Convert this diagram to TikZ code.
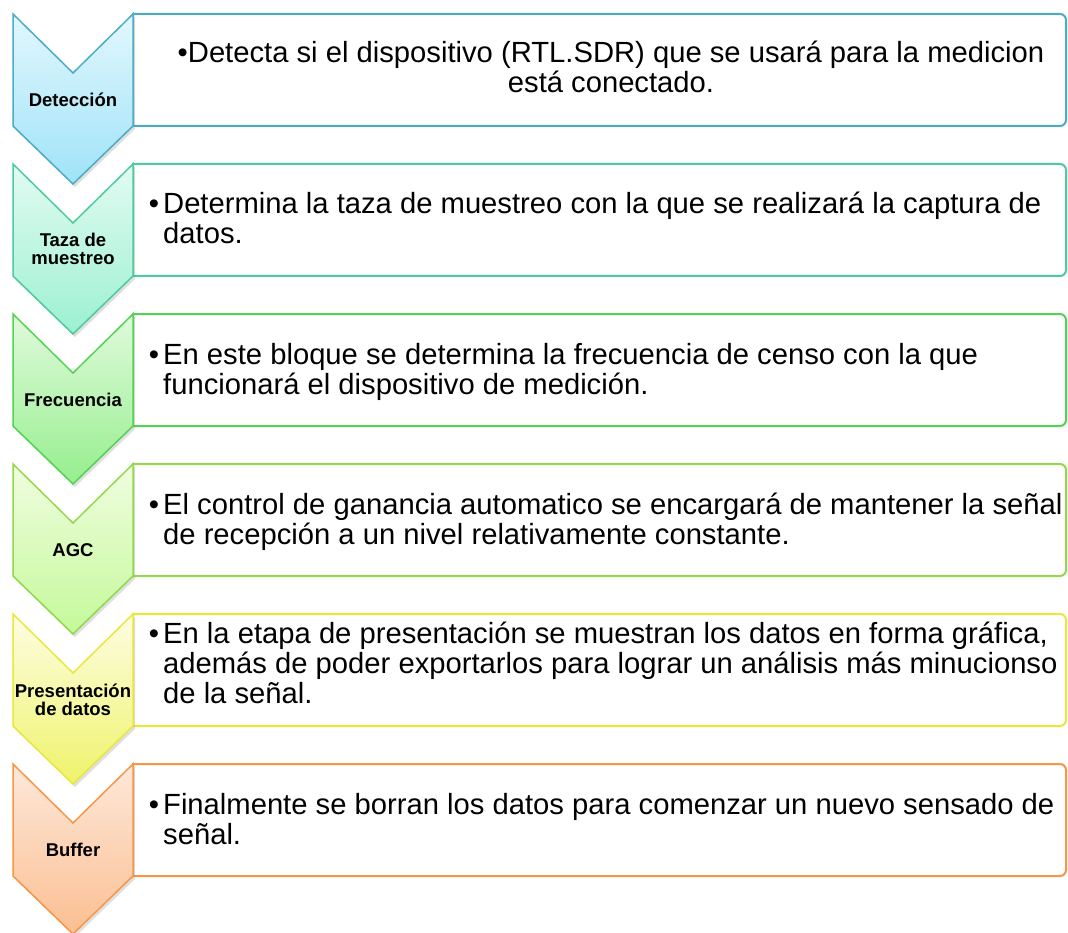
\documentclass[tikz,border=0pt]{standalone}
\usepackage{fontspec}
\setmainfont{Liberation Sans}
\usetikzlibrary{shadows}

%%%% COLORES
\definecolor{azulB}{HTML}{4BACC6}
\definecolor{azulA}{HTML}{E2F7FD}
\definecolor{azulC}{HTML}{9FE3F8}
\definecolor{tealB}{HTML}{4DCB9C}
\definecolor{tealA}{HTML}{E2FBF2}
\definecolor{tealC}{HTML}{9CF0D2}
\definecolor{verdeB}{HTML}{52D452}
\definecolor{verdeA}{HTML}{E0FADC}
\definecolor{verdeC}{HTML}{96EE8E}
\definecolor{limaB}{HTML}{92D84C}
\definecolor{limaA}{HTML}{F0FDDF}
\definecolor{limaC}{HTML}{C4F99A}
\definecolor{amariB}{HTML}{E8E83A}
\definecolor{amariA}{HTML}{FDFDE2}
\definecolor{amariC}{HTML}{EFF36A}
\definecolor{naranB}{HTML}{F79646}
\definecolor{naranA}{HTML}{FDE8DA}
\definecolor{naranC}{HTML}{FBBF92}

\tikzset{
  flecha/.style={line width=1.5pt, line join=miter,
    drop shadow={opacity=0.25, shadow xshift=2pt, shadow yshift=-3pt}},
  caja/.style={line width=2pt, fill=white},
  etiqueta/.style={font=\fontsize{18.5}{18}\selectfont\bfseries, align=center, inner sep=0pt},
  texto/.style={font=\fontsize{29.2}{30}\selectfont, align=left, anchor=base west, inner sep=0pt},
}
\newcommand{\bala}{\llap{•\hspace{4pt}}}

\begin{document}
\begin{tikzpicture}[line cap=round, x=1pt, y=-1pt]
  \useasboundingbox (0,0) rectangle (1068,933);

  %%%% DETECCION
  \draw[caja, draw=azulB] (133,126) -- (133,14) [rounded corners=6pt] -- (1066,14) -- (1066,126) [sharp corners] -- (133,126);
  \draw[flecha, draw=azulB, top color=azulA, bottom color=azulC] (13,14) -- (73,73) -- (133,14) -- (133,126) -- (73,184) -- (13,126) -- cycle;
  \node[etiqueta] (det) at (73,100) {Detección};
  \node[texto, align=center, anchor=base] (tdet) at (611,93)
    {•Detecta si el dispositivo (RTL.SDR) que se usará para la medicion\\ está conectado.};

  %%%% TAZA DE MUESTREO
  \draw[caja, draw=tealB] (133,276) -- (133,164) [rounded corners=6pt] -- (1066,164) -- (1066,276) [sharp corners] -- (133,276);
  \draw[flecha, draw=tealB, top color=tealA, bottom color=tealC] (13,164) -- (73,223) -- (133,164) -- (133,276) -- (73,334) -- (13,276) -- cycle;
  \node[etiqueta] (taza) at (73,249) {Taza de\\ muestreo};
  \node[texto] (ttaza) at (163,244)
    {\bala Determina la taza de muestreo con la que se realizará la captura de\\ datos.};

  %%%% FRECUENCIA
  \draw[caja, draw=verdeB] (133,426) -- (133,314) [rounded corners=6pt] -- (1066,314) -- (1066,426) [sharp corners] -- (133,426);
  \draw[flecha, draw=verdeB, top color=verdeA, bottom color=verdeC] (13,314) -- (73,373) -- (133,314) -- (133,426) -- (73,484) -- (13,426) -- cycle;
  \node[etiqueta] (frec) at (73,400) {Frecuencia};
  \node[texto] (tfrec) at (163,394)
    {\bala En este bloque se determina la frecuencia de censo con la que\\ funcionará el dispositivo de medición.};

  %%%% AGC
  \draw[caja, draw=limaB] (133,576) -- (133,464) [rounded corners=6pt] -- (1066,464) -- (1066,576) [sharp corners] -- (133,576);
  \draw[flecha, draw=limaB, top color=limaA, bottom color=limaC] (13,464) -- (73,523) -- (133,464) -- (133,576) -- (73,634) -- (13,576) -- cycle;
  \node[etiqueta] (agc) at (73,550) {AGC};
  \node[texto] (tagc) at (163,544)
    {\bala El control de ganancia automatico se encargará de mantener la señal\\ de recepción a un nivel relativamente constante.};

  %%%% PRESENTACION DE DATOS
  \draw[caja, draw=amariB] (133,726) -- (133,614) [rounded corners=6pt] -- (1066,614) -- (1066,726) [sharp corners] -- (133,726);
  \draw[flecha, draw=amariB, top color=amariA, bottom color=amariC] (13,614) -- (73,673) -- (133,614) -- (133,726) -- (73,784) -- (13,726) -- cycle;
  \node[etiqueta] (pres) at (73,700) {Presentación\\ de datos};
  \node[texto] (tpres) at (163,703)
    {\bala En la etapa de presentación se muestran los datos en forma gráfica,\\ además de poder exportarlos para lograr un análisis más minucionso\\ de la señal.};

  %%%% BUFFER
  \draw[caja, draw=naranB] (133,876) -- (133,764) [rounded corners=6pt] -- (1066,764) -- (1066,876) [sharp corners] -- (133,876);
  \draw[flecha, draw=naranB, top color=naranA, bottom color=naranC] (13,764) -- (73,823) -- (133,764) -- (133,876) -- (73,934) -- (13,876) -- cycle;
  \node[etiqueta] (buf) at (73,850) {Buffer};
  \node[texto] (tbuf) at (163,844)
    {\bala Finalmente se borran los datos para comenzar un nuevo sensado de\\ señal.};
\end{tikzpicture}
\end{document}
